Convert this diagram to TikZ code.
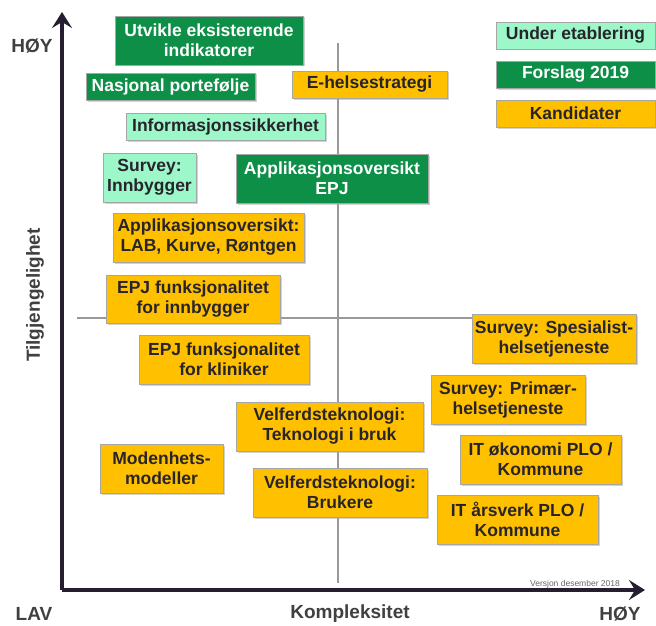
\documentclass[tikz,border=0pt]{standalone}
\usepackage{fontspec}
\setmainfont{Liberation Sans}
\usepackage{xcolor}
\usepackage{tikz}
\usetikzlibrary{arrows.meta, shadows}

\definecolor{forslag}{RGB}{14,143,72}
\definecolor{etablering}{RGB}{156,247,201}
\definecolor{kandidat}{RGB}{255,192,0}
\definecolor{aksefarge}{RGB}{38,30,48}
\definecolor{tekstfarge}{RGB}{40,36,44}

\begin{document}
\begin{tikzpicture}[x=1pt, y=-1pt,
    box/.style={rectangle, draw=black!35, line width=0.8pt, align=center,
                inner sep=2pt, font=\bfseries\fontsize{17.5}{20}\selectfont,
                drop shadow={shadow xshift=1.5pt, shadow yshift=-1.5pt, fill=black!35}},
    gronn/.style={box, fill=forslag, text=white},
    mint/.style={box, fill=etablering, text=tekstfarge},
    gul/.style={box, fill=kandidat, text=tekstfarge},
    akse/.style={line width=4pt, draw=aksefarge,
                 -{Stealth[length=16pt, width=20pt, inset=6pt]}},
    kvadrant/.style={line width=2.5pt, draw=black!40},
    etikett/.style={inner sep=0pt, font=\bfseries\fontsize{19}{22}\selectfont, text=black!75}]

\useasboundingbox (0,0) rectangle (656,626);

% kvadrantlinjer
\coordinate (vtopp) at (338,43);
\coordinate (vbunn) at (338,583);
\coordinate (hvenstre) at (77,318);
\coordinate (hhoyre) at (472,318);
\draw[kvadrant] (vtopp) -- (vbunn);
\draw[kvadrant] (hvenstre) -- (hhoyre);

% akser
\coordinate (origo) at (62,590);
\coordinate (ytopp) at (62,12);
\coordinate (xende) at (645,590);
\draw[akse] (origo) -- (ytopp);
\draw[akse] (origo) -- (xende);

\node[etikett] (yhoy) at (32,46) {HØY};
\node[etikett] (lav) at (34,614) {LAV};
\node[etikett] (xhoy) at (620,614) {HØY};
\node[etikett] (kompl) at (350,614) {Kompleksitet};
\node[etikett, rotate=90] (tilgj) at (35,295) {Tilgjengelighet};
\node[font=\fontsize{8.5}{10}\selectfont, text=black!60] (versjon) at (575,584) {Versjon desember 2018};

% forklaring
\node[mint, minimum width=159, minimum height=27] (under) at (575.5,35.5) {Under etablering};
\node[gronn, minimum width=159, minimum height=27] (forslag) at (575.5,74.5) {Forslag 2019};
\node[gul, minimum width=159, minimum height=27] (kand) at (575.5,113.5) {Kandidater};

% indikatorer
\node[gronn, minimum width=188, minimum height=49] (utvikle) at (209,40.5) {Utvikle eksisterende\\indikatorer};
\node[gronn, minimum width=169, minimum height=27] (nasjonal) at (170.5,86.5) {Nasjonal portefølje};
\node[gul, minimum width=155, minimum height=27] (ehelse) at (369.5,84.5) {E-helsestrategi};
\node[mint, minimum width=199, minimum height=27] (infosik) at (225.5,126.5) {Informasjonssikkerhet};
\node[mint, minimum width=93, minimum height=49] (innbygger) at (149.5,177.5) {Survey:\\Innbygger};
\node[gronn, minimum width=192, minimum height=49] (appepj) at (332,178.5) {Applikasjonsoversikt\\EPJ};
\node[gul, minimum width=191, minimum height=49] (applab) at (208.5,237.5) {Applikasjonsoversikt:\\LAB, Kurve, Røntgen};
\node[gul, minimum width=174, minimum height=48] (epjinnb) at (193,299) {EPJ funksjonalitet\\for innbygger};
\node[gul, minimum width=170, minimum height=49] (epjklin) at (224,359.5) {EPJ funksjonalitet\\for kliniker};
\node[gul, minimum width=164, minimum height=49] (spesialist) at (554,338.5) {Survey: Spesialist-\\helsetjeneste};
\node[gul, minimum width=154, minimum height=49] (primaer) at (508,399.5) {Survey: Primær-\\helsetjeneste};
\node[gul, minimum width=187, minimum height=49] (velfbruk) at (329.5,426.5) {Velferdsteknologi:\\Teknologi i bruk};
\node[gul, minimum width=174, minimum height=49] (velfbrukere) at (340,492.5) {Velferdsteknologi:\\Brukere};
\node[gul, minimum width=161, minimum height=49] (itokonomi) at (540.5,459.5) {IT økonomi PLO /\\Kommune};
\node[gul, minimum width=161, minimum height=49] (itarsverk) at (517.5,519.5) {IT årsverk PLO /\\Kommune};
\node[gul, minimum width=123, minimum height=49] (modenhet) at (161.5,468.5) {Modenhets-\\modeller};
\end{tikzpicture}
\end{document}
